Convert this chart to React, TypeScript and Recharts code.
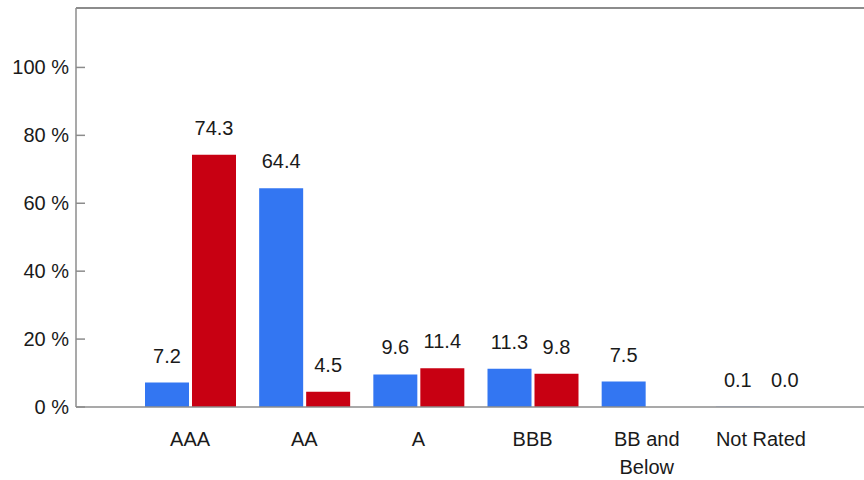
import React from 'react';
import { BarChart, Bar, XAxis, YAxis, LabelList, ReferenceLine } from 'recharts';

const categories = ['AAA', 'AA', 'A', 'BBB', 'BB and Below', 'Not Rated'];
const portfolio = [7.2, 64.4, 9.6, 11.3, 7.5, 0.1];
const benchmark: (number | null)[] = [74.3, 4.5, 11.4, 9.8, null, 0.0];
const yTicks = [0, 20, 40, 60, 80, 100];

const data = categories.map((c, i) => ({ name: c, portfolio: portfolio[i], benchmark: benchmark[i] }));

const FONT = '"Liberation Sans", Arial, sans-serif';
const AXIS = '#8c8c8c';

// greedy word wrap at roughly 10 characters per line
const wrap = (s: string) => {
    const lines: string[] = [];
    let cur = '';
    s.split(' ').forEach((w) => {
        const next = cur ? cur + ' ' + w : w;
        if (next.length > 10 && cur) {
            lines.push(cur);
            cur = w;
        } else cur = next;
    });
    if (cur) lines.push(cur);
    return lines;
};

const YTick = (props: any) => {
    const { x, y, payload } = props;
    return (
        <g>
            <line x1={x} x2={x + 9} y1={y} y2={y} stroke={AXIS} strokeWidth={1.5} />
            <text x={x - 7} y={y} dy="0.35em" textAnchor="end" fontSize={20} fontFamily={FONT} fill="#1a1a1a">
                {payload.value} %
            </text>
        </g>
    );
};

const XTick = (props: any) => {
    const { x, y, payload } = props;
    return (
        <text x={x} y={y + 37} textAnchor="middle" fontSize={20} fontFamily={FONT} fill="#1a1a1a">
            {wrap(payload.value).map((l, i) => (
                <tspan key={i} x={x} dy={i === 0 ? 0 : 28}>{l}</tspan>
            ))}
        </text>
    );
};

const fmt = (v: any) => (v === null || v === undefined ? '' : Number(v).toFixed(1));
// keep a hairline rect for the 0.0 value so its label is still drawn
const minZero = (v: any) => (v === 0 ? 0.1 : 0);

const App = () => {
    return (
        <div style={{ position: 'absolute', left: 0, top: 0, width: 864, height: 480, background: '#fff' }}>
            <BarChart width={864} height={480} data={data} barSize={44} barGap={3}
                margin={{ top: 8, right: 0, bottom: 0, left: 0 }}>
                <XAxis dataKey="name" height={73} padding={{ left: 57, right: 46 }} tickLine={false}
                    tickSize={0} tick={<XTick />} stroke={AXIS} strokeWidth={1.5} interval={0} />
                <YAxis width={76} domain={[0, 117.5]} ticks={yTicks} tickLine={false} tickSize={0}
                    tickMargin={0} tick={<YTick />} stroke={AXIS} strokeWidth={1.5} allowDataOverflow />
                <ReferenceLine y={117.5} stroke={AXIS} strokeWidth={2} />
                <Bar dataKey="portfolio" fill="#3376f2" isAnimationActive={false}>
                    <LabelList dataKey="portfolio" position="top" offset={20} formatter={fmt}
                        fontSize={20} fontFamily={FONT} fill="#1a1a1a" />
                </Bar>
                <Bar dataKey="benchmark" fill="#c80012" isAnimationActive={false} minPointSize={minZero}>
                    <LabelList dataKey="benchmark" position="top" offset={20} formatter={fmt}
                        fontSize={20} fontFamily={FONT} fill="#1a1a1a" />
                </Bar>
            </BarChart>
        </div>
    );
};

export default App;
